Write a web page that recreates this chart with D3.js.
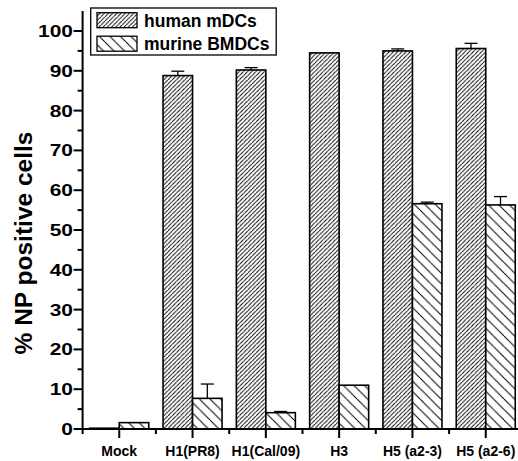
<!DOCTYPE html>
<html>
<head>
<meta charset="utf-8">
<script src="https://cdn.jsdelivr.net/npm/d3@7"></script>
<style>
  body { margin: 0; background: #fff; }
  svg { display: block; font-family: "Liberation Sans", Arial, sans-serif; }
</style>
</head>
<body>
<svg id="chart"></svg>
<script>
const W = 518
const H = 461
const categories = ["Mock", "H1(PR8)", "H1(Cal/09)", "H3", "H5 (a2-3)", "H5 (a2-6)"]
const seriesNames = ["human mDCs", "murine BMDCs"]
const humanVals = [0.2, 88.8, 90.2, 94.5, 95.0, 95.6]
const humanErr = [0, 1.1, 0.6, 0, 0.5, 1.3]
const murineVals = [1.6, 7.7, 4.1, 11.0, 56.6, 56.3]
const murineErr = [0, 3.6, 0.3, 0, 0.4, 2.1]
const yTicks = [0, 10, 20, 30, 40, 50, 60, 70, 80, 90, 100]

const svg = d3.select("#chart").attr("width", W).attr("height", H)

const defs = svg.append("defs")
function hatch(id, spacing, dir) {
  const p = defs.append("pattern")
    .attr("id", id)
    .attr("patternUnits", "userSpaceOnUse")
    .attr("width", spacing)
    .attr("height", spacing)
  p.append("rect").attr("width", spacing).attr("height", spacing).attr("fill", "#fff")
  const s = spacing
  const d = dir > 0
    ? `M0,${s} L${s},0 M${-s},${s} L0,0 M${s},${2 * s} L${2 * s},${s}`
    : `M0,0 L${s},${s} M${-s},0 L0,${s} M${s},0 L${2 * s},${s}`
  p.append("path").attr("d", d).attr("stroke", "#000").attr("stroke-width", 1)
}
hatch("hHuman", 4.2, 1)
hatch("hMurine", 10.5, -1)

const x0 = 82.6
const step = 73.3
const x = d3.scaleBand()
  .domain(categories)
  .range([x0, x0 + step * categories.length])
  .paddingInner(0)
  .paddingOuter(0)
const y = d3.scaleLinear().domain([0, 100]).range([429, 31])
const barW = 29.5

const plot = svg.append("g")

function drawSeries(vals, errs, fill, side) {
  const g = plot.append("g")
  categories.forEach((c, i) => {
    const cx = x(c) + x.bandwidth() / 2
    const bx = side < 0 ? cx - barW : cx
    const v = vals[i]
    g.append("rect")
      .attr("x", bx)
      .attr("y", y(v))
      .attr("width", barW)
      .attr("height", y(0) - y(v))
      .attr("fill", fill)
      .attr("stroke", "#000")
      .attr("stroke-width", 1.6)
    if (errs[i] > 0) {
      const ex = bx + barW / 2
      g.append("line")
        .attr("x1", ex).attr("x2", ex)
        .attr("y1", y(v)).attr("y2", y(v + errs[i]))
        .attr("stroke", "#000").attr("stroke-width", 1.3)
      g.append("line")
        .attr("x1", ex - 6.5).attr("x2", ex + 6.5)
        .attr("y1", y(v + errs[i])).attr("y2", y(v + errs[i]))
        .attr("stroke", "#000").attr("stroke-width", 1.3)
    }
  })
}
drawSeries(humanVals, humanErr, "url(#hHuman)", -1)
drawSeries(murineVals, murineErr, "url(#hMurine)", 1)

// y axis
const yAxis = svg.append("g")
yAxis.append("line")
  .attr("x1", x0).attr("x2", x0)
  .attr("y1", y(105)).attr("y2", y(0))
  .attr("stroke", "#000").attr("stroke-width", 2)
d3.range(0, 105, 5).forEach((t) => {
  const major = t % 10 === 0
  yAxis.append("line")
    .attr("x1", x0 - (major ? 9 : 5)).attr("x2", x0)
    .attr("y1", y(t)).attr("y2", y(t))
    .attr("stroke", "#000").attr("stroke-width", 2)
})
// tick numbers are drawn wider than normal in the original
yAxis.selectAll("text")
  .data(yTicks)
  .enter()
  .append("text")
  .attr("transform", (d) => `translate(73,${y(d)}) scale(1.27,1)`)
  .attr("dy", "0.36em")
  .attr("text-anchor", "end")
  .attr("font-size", 16.5)
  .attr("font-weight", "bold")
  .text((d) => d)

svg.append("text")
  .attr("transform", "translate(31.5,243) rotate(-90)")
  .attr("text-anchor", "middle")
  .attr("font-size", 24.5)
  .attr("font-weight", "bold")
  .text("% NP positive cells")

// x axis
const xAxis = svg.append("g")
xAxis.append("line")
  .attr("x1", x0 - 1).attr("x2", W)
  .attr("y1", y(0)).attr("y2", y(0))
  .attr("stroke", "#000").attr("stroke-width", 2)
categories.forEach((c, i) => {
  const cx = x(c) + x.bandwidth() / 2
  xAxis.append("line")
    .attr("x1", cx).attr("x2", cx)
    .attr("y1", y(0)).attr("y2", y(0) + 9)
    .attr("stroke", "#000").attr("stroke-width", 2)
  xAxis.append("line")
    .attr("x1", x(c)).attr("x2", x(c))
    .attr("y1", y(0)).attr("y2", y(0) + 5)
    .attr("stroke", "#000").attr("stroke-width", 2)
  xAxis.append("text")
    .attr("x", cx)
    .attr("y", 455.5)
    .attr("text-anchor", "middle")
    .attr("font-size", 14)
    .attr("font-weight", "bold")
    .text(c)
})

// legend
const legend = svg.append("g")
legend.append("rect")
  .attr("x", 90.7).attr("y", 8)
  .attr("width", 185.5).attr("height", 47)
  .attr("fill", "#fff").attr("stroke", "#000").attr("stroke-width", 1.3)
const legendFills = ["url(#hHuman)", "url(#hMurine)"]
seriesNames.forEach((name, i) => {
  legend.append("rect")
    .attr("x", 97).attr("y", 12.7 + i * 23.5)
    .attr("width", 40).attr("height", 15)
    .attr("fill", legendFills[i])
    .attr("stroke", "#000").attr("stroke-width", 1.3)
  legend.append("text")
    .attr("x", 144).attr("y", 26.5 + i * 23.5)
    .attr("font-size", 17.5)
    .attr("font-weight", "bold")
    .text(name)
})
</script>
</body>
</html>
